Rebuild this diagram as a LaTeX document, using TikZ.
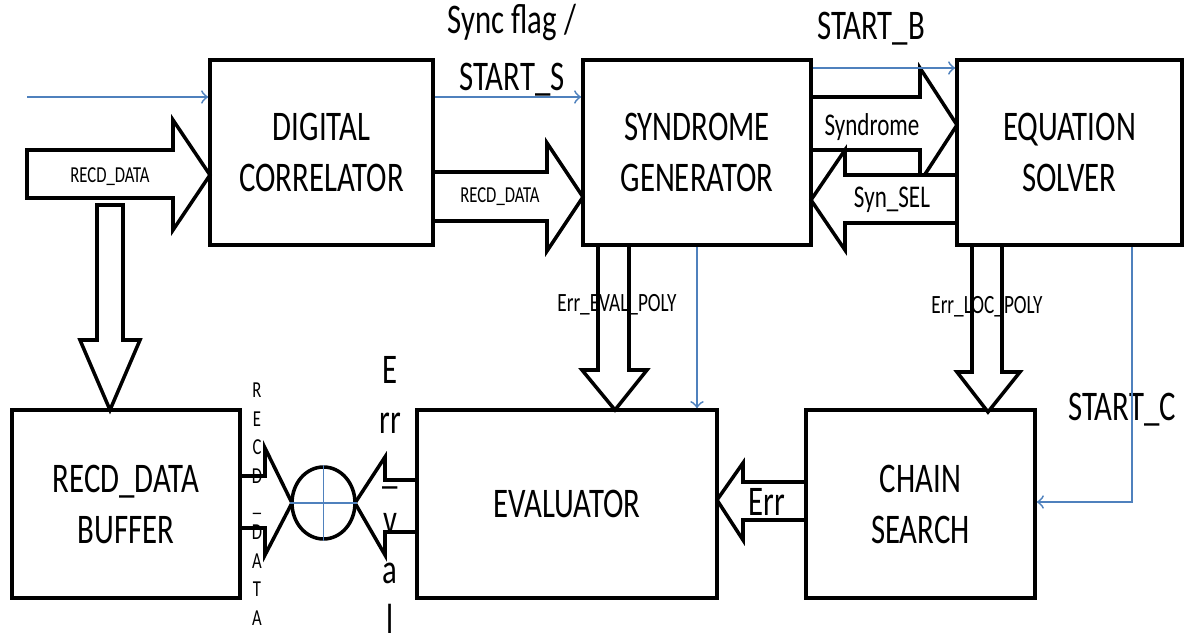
\documentclass[tikz,border=0pt]{standalone}
\usepackage{fontspec}
\setmainfont{Carlito}[FakeStretch=0.73]
\usetikzlibrary{shapes.geometric}
\definecolor{sigblue}{RGB}{79,129,189}
\tikzset{
  box/.style={draw, line width=1pt, align=center, font=\fontsize{12}{14.5}\selectfont},
  busarrow/.style={draw, line width=1pt, fill=white},
  sig/.style={->, draw=sigblue, line width=0.5pt},
  lab/.style={align=center, font=\fontsize{12}{16.2}\selectfont},
  buslab/.style={font=\fontsize{6.5}{7}\selectfont},
}
\begin{document}
\begin{tikzpicture}[y=-1cm]
    \useasboundingbox (0,0) rectangle (11.85,6.44);

    % blocks
    \node[box, minimum width=2.23cm, minimum height=1.85cm] (dc) at (3.215,1.525) {DIGITAL\\CORRELATOR};
    \node[box, minimum width=2.28cm, minimum height=1.85cm] (sg) at (6.97,1.525) {SYNDROME\\GENERATOR};
    \node[box, minimum width=2.25cm, minimum height=1.85cm] (es) at (10.695,1.525) {EQUATION\\SOLVER};
    \node[box, minimum width=2.28cm, minimum height=1.88cm] (buf) at (1.26,5.04) {RECD\_DATA\\BUFFER};
    \node[box, minimum width=3.00cm, minimum height=1.88cm] (ev) at (5.67,5.04) {EVALUATOR};
    \node[box, minimum width=2.29cm, minimum height=1.88cm] (cs) at (9.205,5.04) {CHAIN\\SEARCH};
    \node[draw, ellipse, line width=1pt, minimum width=0.63cm, minimum height=0.72cm, inner sep=0pt] (xor) at (3.235,5.03) {};

    % bus arrows
    \draw[busarrow] (0.27,1.50) -- (1.73,1.50) -- (1.73,1.20) -- (2.10,1.75) -- (1.73,2.30) -- (1.73,1.98) -- (0.27,1.98) -- cycle;
    \draw[busarrow] (0.97,2.05) -- (1.23,2.05) -- (1.23,3.40) -- (1.40,3.40) -- (1.10,4.10) -- (0.80,3.40) -- (0.97,3.40) -- cycle;
    \draw[busarrow] (4.33,1.72) -- (5.47,1.72) -- (5.47,1.43) -- (5.83,1.97) -- (5.47,2.51) -- (5.47,2.21) -- (4.33,2.21) -- cycle;
    \draw[busarrow] (8.11,0.97) -- (9.20,0.97) -- (9.20,0.68) -- (9.57,1.25) -- (9.20,1.82) -- (9.20,1.50) -- (8.11,1.50) -- cycle;
    \draw[busarrow] (9.57,1.75) -- (8.45,1.75) -- (8.45,1.50) -- (8.11,2.00) -- (8.45,2.50) -- (8.45,2.23) -- (9.57,2.23) -- cycle;
    \draw[busarrow] (5.98,2.45) -- (5.98,3.70) -- (5.82,3.70) -- (6.15,4.10) -- (6.47,3.70) -- (6.29,3.70) -- (6.29,2.45) -- cycle;
    \draw[busarrow] (9.72,2.45) -- (9.72,3.72) -- (9.57,3.72) -- (9.88,4.12) -- (10.20,3.72) -- (10.02,3.72) -- (10.02,2.45) -- cycle;
    \draw[busarrow] (8.06,4.82) -- (7.43,4.82) -- (7.43,4.63) -- (7.17,5.00) -- (7.43,5.40) -- (7.43,5.20) -- (8.06,5.20) -- cycle;
    \draw[busarrow] (2.40,4.76) -- (2.65,4.76) -- (2.65,4.48) -- (2.92,5.03) -- (2.65,5.55) -- (2.65,5.28) -- (2.40,5.28) -- cycle;
    \draw[busarrow] (4.17,4.80) -- (3.85,4.80) -- (3.85,4.57) -- (3.55,5.03) -- (3.85,5.55) -- (3.85,5.32) -- (4.17,5.32) -- cycle;

    % bus labels
    \node[buslab] (l1) at (1.10,1.77) {RECD\_DATA};
    \node[buslab] (l2) at (5.00,1.97) {RECD\_DATA};
    \node[font=\fontsize{9}{10}\selectfont] (l3) at (8.72,1.27) {Syndrome};
    \node[font=\fontsize{9}{10}\selectfont] (l4) at (8.92,2.00) {Syn\_SEL};
    \node[font=\fontsize{7.5}{8}\selectfont] (l5) at (6.17,3.05) {Err\_EVAL\_POLY};
    \node[font=\fontsize{7.5}{8}\selectfont] (l6) at (9.87,3.07) {Err\_LOC\_POLY};
    \node[font=\fontsize{12}{13}\selectfont] (l7) at (7.67,5.02) {Err};
    \foreach \c [count=\i] in {R,E,C,D,\_,D,A,T,A}
        \node[anchor=base, inner sep=1pt, font=\fontsize{6.5}{7}\selectfont] at (2.57,{3.98+0.284*(\i-1)}) {\c};
    \foreach \c [count=\i] in {E,rr,\_,v,a,l}
        \node[anchor=base, inner sep=0.5pt, font=\fontsize{12}{13}\selectfont] at (3.90,{3.84+0.50*(\i-1)}) {\c};

    % control signals
    \node[lab] (sync) at (5.12,0.50) {Sync flag /\\START\_S};
    \node[lab] (stb) at (8.71,0.29) {START\_B};
    \node[lab] (stc) at (11.22,4.10) {START\_C};
    \coordinate (in) at (0.27,0.97);
    \draw[sig] (in) -- (in -| dc.west);
    \draw[sig] (dc.east |- 0,0.97) -- (sg.west |- 0,0.97);
    \draw[sig] (sg.east |- 0,0.68) -- (es.west |- 0,0.68);
    \draw[sig] (sg.south) -- (sg.south |- ev.north);
    \draw[sig] (es.south -| 11.32,0) -- (11.32,5.02) -- (cs.east |- 0,5.02);
    \draw[draw=sigblue, line width=0.5pt] (xor.west) -- (xor.east) (xor.north) -- (xor.south);
\end{tikzpicture}
\end{document}
